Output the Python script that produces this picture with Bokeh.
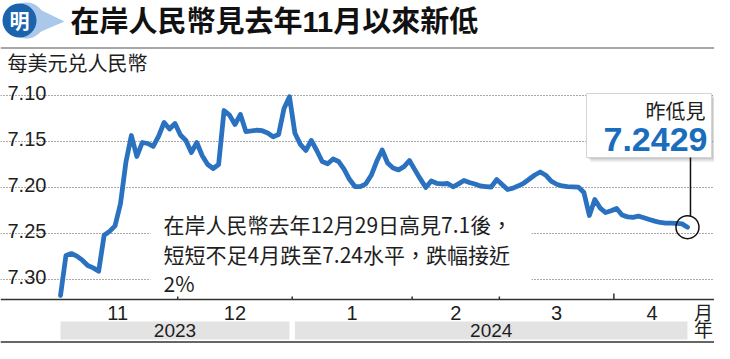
from bokeh.plotting import figure
from bokeh.models import Range1d, FixedTicker, Grid, Span
from bokeh.embed import file_html
from bokeh.resources import INLINE
from bokeh.core.properties import value

# ---------------- data ----------------
usd_cny = [
    7.3170, 7.2736, 7.2715, 7.2743, 7.2787, 7.2845, 7.2871, 7.2907, 7.2517, 7.2474,
    7.2415, 7.2175, 7.1723, 7.1434, 7.1662, 7.1510, 7.1521, 7.1553, 7.1440, 7.1293,
    7.1364, 7.1304, 7.1429, 7.1488, 7.1619, 7.1510, 7.1654, 7.1749, 7.1792, 7.1749,
    7.1163, 7.1213, 7.1315, 7.1206, 7.1391, 7.1385, 7.1377, 7.1382, 7.1407, 7.1448,
    7.1423, 7.1141, 7.1014, 7.1410, 7.1530, 7.1597, 7.1488, 7.1597, 7.1716, 7.1741,
    7.1689, 7.1716, 7.1799, 7.1909, 7.1988, 7.1988, 7.1958, 7.1866, 7.1714, 7.1591,
    7.1733, 7.1787, 7.1807, 7.1772, 7.1705, 7.1807, 7.1905, 7.1998, 7.1928, 7.1953,
    7.1960, 7.1955, 7.1991, 7.1959, 7.1922, 7.1944, 7.1960, 7.1982, 7.1988, 7.1993,
    7.1912, 7.1966, 7.2020, 7.2005, 7.1980, 7.1950, 7.1906, 7.1863, 7.1830, 7.1865,
    7.1930, 7.1963, 7.1982, 7.1989, 7.1991, 7.1994, 7.2053, 7.2302, 7.2129, 7.2222,
    7.2270, 7.2251, 7.2226, 7.2297, 7.2317, 7.2323, 7.2309, 7.2326, 7.2346, 7.2363,
    7.2378, 7.2384, 7.2386, 7.2388, 7.2393, 7.2429,
]
month_labels = ["11", "12", "1", "2", "3", "4"]
month_start = [0, 22, 43, 65, 81, 102]      # trading-day index of each month's first day
year_labels = ["2023", "2024"]
year_first = [0, 43]
year_last = [42, 115]
y_ticks = [7.10, 7.15, 7.20, 7.25, 7.30]
y_tick_labels = ["7.10", "7.15", "7.20", "7.25", "7.30"]
title_text = "在岸人民幣見去年11月以來新低"
unit_text = "每美元兑人民幣"
note_lines = ["在岸人民幣去年12月29日高見7.1後，", "短短不足4月跌至7.24水平，跌幅接近", "2%"]
callout_head = "昨低見"
callout_value = "7.2429"
month_unit = "月"
year_unit = "年"

# ---------------- layout (canvas pixels -> data scale) ----------------
W, H = 714, 343
PX_PER_DAY = 5.452
X0_PX = 60.0          # canvas x of first trading day
TOP_TICK_PX = 95.0    # canvas y of the first (top) y tick
PX_PER_UNIT = 921.5
AXIS_PX = 299

x_start = -X0_PX / PX_PER_DAY
x_end = (W - X0_PX) / PX_PER_DAY
y_top = y_ticks[0] - TOP_TICK_PX / PX_PER_UNIT


def dx(px):
    return x_start + px / PX_PER_DAY


def dy(py):
    return y_top + py / PX_PER_UNIT


def px_of(x):
    return (x - x_start) * PX_PER_DAY


def py_of(y):
    return (y - y_top) * PX_PER_UNIT


CJK = "Noto Sans CJK TC"
LAT = "Liberation Sans, Noto Sans CJK TC"
BLUE = "#2a72c0"
INK = "#1e1e1e"

p = figure(width=W, height=H, x_range=Range1d(x_start, x_end), y_range=Range1d(dy(H), dy(0)),
           x_axis_type=None, y_axis_type=None, output_backend="svg", toolbar_location=None,
           min_border=0)
p.outline_line_color = None
p.background_fill_color = "white"
p.border_fill_color = "white"

# horizontal dotted grid
p.add_layout(Grid(dimension=1, ticker=FixedTicker(ticks=y_ticks), grid_line_color="#555555",
                  grid_line_dash="1 2", grid_line_width=1))

# y tick labels sitting on the grid lines
p.text(x=[dx(7)] * len(y_ticks), y=y_ticks, text=y_tick_labels, text_align="left",
       text_baseline="alphabetic", y_offset=-3, text_font=value(LAT),
       text_font_size="20px", text_color=INK)

# x axis: baseline, month-boundary ticks, month labels
last_idx = len(usd_cny) - 1
bounds = [s - 0.5 for s in month_start] + [last_idx + 0.5]
centers = [(bounds[i] + bounds[i + 1]) / 2 for i in range(len(month_labels))]
p.add_layout(Span(location=dy(AXIS_PX), dimension="width", line_color="#333333", line_width=1.5))
p.segment(x0=bounds[1:-1], x1=bounds[1:-1], y0=[dy(AXIS_PX)] * (len(bounds) - 2),
          y1=[dy(AXIS_PX - 6)] * (len(bounds) - 2), line_color="#333333", line_width=1.5)
p.text(x=centers, y=[dy(312.5)] * len(centers), text=month_labels, text_align="center",
       text_baseline="middle", text_font=value(LAT), text_font_size="20px", text_color=INK)
p.text(x=[dx(703)], y=[dy(312.5)], text=[month_unit], text_align="center",
       text_baseline="middle", text_font=value(LAT), text_font_size="19px", text_color=INK)

# year band
p.quad(left=year_first, right=year_last, top=[dy(321)] * 2, bottom=[dy(339)] * 2,
       fill_color="#e3e3e3", line_color=None)
p.text(x=[(a + b) / 2 for a, b in zip(year_first, year_last)], y=[dy(330)] * 2,
       text=year_labels, text_align="center", text_baseline="middle",
       text_font=value(LAT), text_font_size="19px", text_color=INK)
p.text(x=[dx(703)], y=[dy(330)], text=[year_unit], text_align="center",
       text_baseline="middle", text_font=value(LAT), text_font_size="19px", text_color=INK)
p.add_layout(Span(location=dy(341.5), dimension="width", line_color="#333333", line_width=1.5))

# note text on a white patch that interrupts the grid
p.quad(left=[dx(150)], right=[dx(531)], top=[dy(207)], bottom=[dy(296)],
       fill_color="white", line_color=None)
p.text(x=[dx(163)] * 3, y=[dy(223), dy(253), dy(282)], text=note_lines, text_align="left",
       text_baseline="middle", text_font=value(CJK), text_font_size="21px", text_color=INK)

# main series
xs = list(range(len(usd_cny)))
p.line(xs, usd_cny, line_color=BLUE, line_width=4.8, line_join="round", line_cap="round")

# callout anchored at the last point
lx, ly = xs[-1], usd_cny[-1]
lpx, lpy = px_of(lx), py_of(ly)
box_l, box_r, box_t, box_b = lpx - 101, lpx + 24, 93, 157
for k, a in [(4.5, 0.10), (3.0, 0.12), (1.5, 0.15)]:
    p.quad(left=[dx(box_l + k)], right=[dx(box_r + k)], top=[dy(box_t + k)], bottom=[dy(box_b + k)],
           fill_color="#555555", fill_alpha=a, line_color=None)
p.quad(left=[dx(box_l)], right=[dx(box_r)], top=[dy(box_t)], bottom=[dy(box_b)],
       fill_color="white", line_color="#d4d4d4", line_width=1)
p.text(x=[dx(box_r - 6)], y=[dy(110)], text=[callout_head], text_align="right",
       text_baseline="middle", text_font=value(CJK), text_font_size="20px", text_color=INK)
p.text(x=[dx(box_r - 4)], y=[dy(139)], text=[callout_value], text_align="right",
       text_baseline="middle", text_font=value("Liberation Sans"), text_font_size="34px",
       text_font_style="bold", text_color="#1a6dbd")
p.segment(x0=[dx(lpx + 3)], y0=[dy(box_b)], x1=[dx(lpx + 3)], y1=[dy(lpy - 11)],
          line_color="#111111", line_width=1.5)
p.scatter(x=[lx], y=[ly], size=23, marker="circle", fill_color=None,
          line_color="#111111", line_width=1.5)

# header: logo, title, rule, unit
cx, cy = 19, 20
p.scatter(x=[dx(cx + 7)], y=[dy(cy)], size=36, marker="circle", fill_color="#a9c8ea", line_color=None)
p.patch(x=[dx(cx + 10), dx(cx + 45), dx(cx + 10)], y=[dy(cy - 16), dy(cy + 1), dy(cy + 16)],
        fill_color="#a9c8ea", line_color=None)
p.scatter(x=[dx(cx)], y=[dy(cy)], size=34, marker="circle", fill_color="#1b63ad", line_color=None)
p.text(x=[dx(cx)], y=[dy(cy + 1)], text=["明"], text_align="center", text_baseline="middle",
       text_font=value(LAT), text_font_size="20px", text_font_style="bold", text_color="white")
p.text(x=[dx(70)], y=[dy(21)], text=[title_text], text_align="left", text_baseline="middle",
       text_font=value(LAT), text_font_size="29px", text_font_style="bold", text_color="#111111")
p.add_layout(Span(location=dy(47.5), dimension="width", line_color="#8a8a8a", line_width=1.5))
p.text(x=[dx(7)], y=[dy(62)], text=[unit_text], text_align="left", text_baseline="middle",
       text_font=value(CJK), text_font_size="20px", text_color=INK)

open("out.html", "w").write(file_html(p, INLINE))
